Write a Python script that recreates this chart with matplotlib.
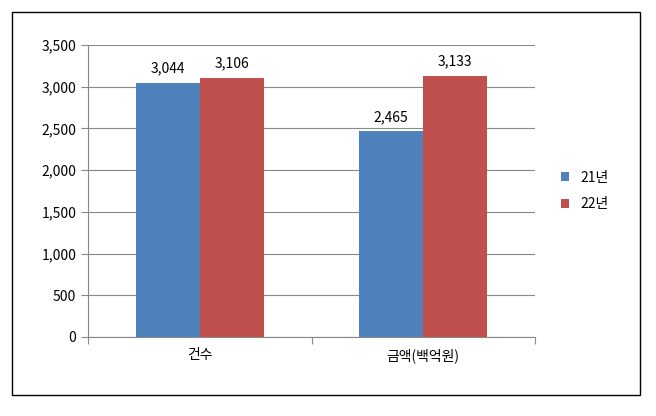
import numpy as np
import matplotlib.pyplot as plt
from matplotlib.patches import Rectangle

plt.rcParams['font.family'] = ['Noto Sans CJK KR', 'DejaVu Sans']

categories = ["건수", "금액(백억원)"]
series_names = ["21년", "22년"]
v21 = [3044, 2465]
v22 = [3106, 3133]
yticks = [0, 500, 1000, 1500, 2000, 2500, 3000, 3500]

fig = plt.figure(figsize=(6.56, 4.16), dpi=100)
fig.patches.append(Rectangle((12 / 656, 1 - 395 / 416), 628 / 656, 383 / 416,
                             transform=fig.transFigure, fill=False,
                             edgecolor="black", linewidth=1))
ax = fig.add_axes([88 / 656, 1 - 337 / 416, 447 / 656, 292 / 416])

x = np.arange(len(categories)) + 0.5
w = 0.286
b1 = ax.bar(x - w / 2, v21, w, color="#4f81bd", label=series_names[0])
b2 = ax.bar(x + w / 2, v22, w, color="#c0504d", label=series_names[1])
for bars in (b1, b2):
    for r in bars:
        ax.text(r.get_x() + r.get_width() / 2, r.get_height() + 90,
                f"{int(r.get_height()):,}", ha="center", va="bottom", fontsize=10)

ax.set_xlim(0, 2)
ax.set_ylim(0, 3500)
ax.set_yticks(yticks)
ax.set_yticklabels([f"{t:,}" for t in yticks], fontsize=10)
ax.set_xticks([0, 1, 2])
ax.set_xticklabels([])
ax.set_xticks(x, minor=True)
ax.set_xticklabels(categories, minor=True, fontsize=10)
ax.tick_params(axis="x", which="minor", length=0, pad=8)
ax.tick_params(axis="x", which="major", length=5, direction="out", color="#888888")
ax.tick_params(axis="y", length=5, color="#888888")
ax.grid(axis="y", color="#888888", linewidth=0.8)
ax.set_axisbelow(True)
for s in ["top", "right"]:
    ax.spines[s].set_visible(False)
for s in ["left", "bottom"]:
    ax.spines[s].set_color("#888888")

ax.legend(loc="center left", bbox_to_anchor=(1.03, 0.5), frameon=False,
          fontsize=10, handlelength=0.6, handleheight=0.6, labelspacing=0.9)

fig.savefig("out.png", dpi=100)
